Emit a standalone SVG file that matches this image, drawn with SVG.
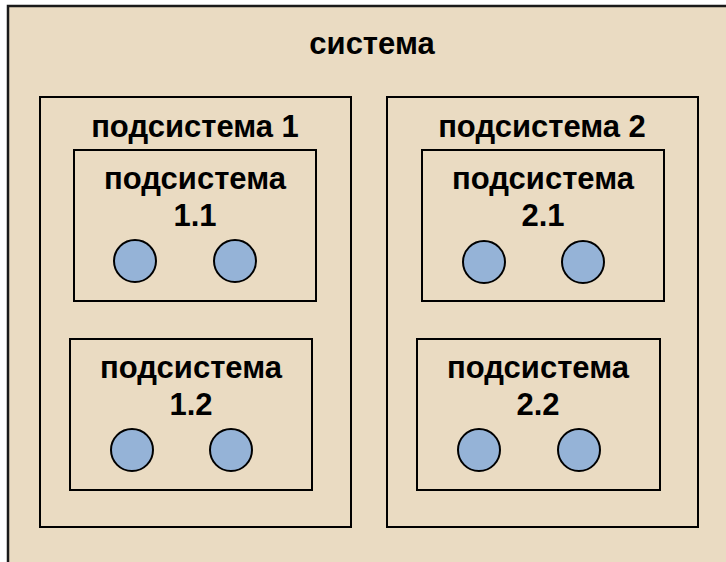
<svg xmlns="http://www.w3.org/2000/svg" width="726" height="562" viewBox="0 0 726 562">
  <style>
    .box { fill: #EADBC2; stroke: #000; stroke-width: 2; }
    .outer { fill: #EADBC2; stroke: #1a1a1a; stroke-width: 2.5; }
    .elem { fill: #95B3D7; stroke: #000; stroke-width: 2; }
    .lbl { font-family: "Liberation Sans", Arial, sans-serif; font-weight: bold; font-size: 31px; fill: #000; text-anchor: middle; }
  </style>
  <rect width="726" height="562" fill="#fff"/>

  <g id="system">
    <rect class="outer" x="8" y="6" width="740" height="600"/>
    <text class="lbl" x="372" y="54">система</text>
  </g>

  <g id="subsystem-1">
    <rect class="box" x="40" y="97" width="311" height="430"/>
    <text class="lbl" x="195" y="137">подсистема 1</text>
  </g>

  <g id="subsystem-2">
    <rect class="box" x="387" y="97" width="311" height="430"/>
    <text class="lbl" x="542" y="137">подсистема 2</text>
  </g>

  <g id="subsystem-1-1">
    <rect class="box" x="74" y="150" width="242" height="151"/>
    <text class="lbl" x="195" y="189">подсистема</text>
    <text class="lbl" x="195" y="226">1.1</text>
    <circle class="elem" cx="135" cy="261" r="21"/>
    <circle class="elem" cx="235" cy="261" r="21"/>
  </g>

  <g id="subsystem-1-2">
    <rect class="box" x="70" y="339" width="242" height="151"/>
    <text class="lbl" x="191" y="378">подсистема</text>
    <text class="lbl" x="191" y="415">1.2</text>
    <circle class="elem" cx="132" cy="450" r="21"/>
    <circle class="elem" cx="231" cy="450" r="21"/>
  </g>

  <g id="subsystem-2-1">
    <rect class="box" x="422" y="150" width="242" height="151"/>
    <text class="lbl" x="543" y="189">подсистема</text>
    <text class="lbl" x="543" y="226">2.1</text>
    <circle class="elem" cx="484" cy="262" r="21"/>
    <circle class="elem" cx="583" cy="262" r="21"/>
  </g>

  <g id="subsystem-2-2">
    <rect class="box" x="417" y="339" width="243" height="151"/>
    <text class="lbl" x="538" y="378">подсистема</text>
    <text class="lbl" x="538" y="415">2.2</text>
    <circle class="elem" cx="479" cy="450" r="21"/>
    <circle class="elem" cx="579" cy="450" r="21"/>
  </g>

  <g id="connectors"/>
</svg>
